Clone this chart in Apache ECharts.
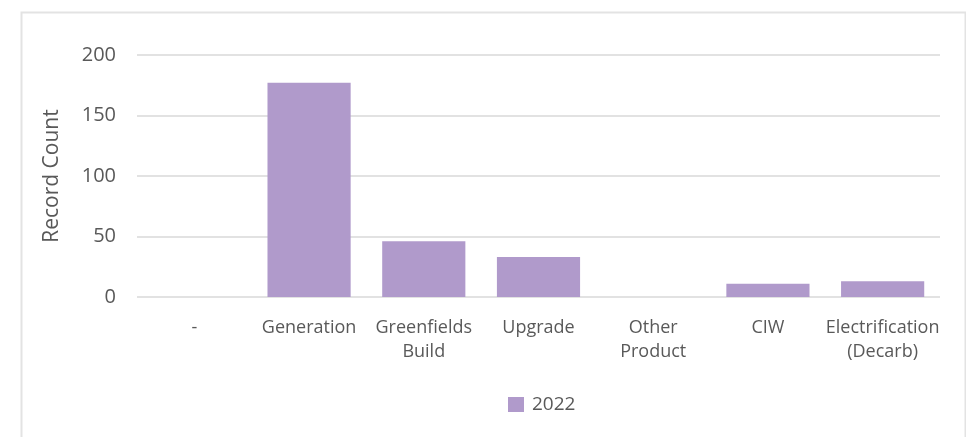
<!DOCTYPE html>
<html>
<head>
<meta charset="utf-8">
<script src="https://cdn.jsdelivr.net/npm/echarts@6/dist/echarts.min.js"></script>
<style>
html,body{margin:0;padding:0;background:#fff;}
#chart{width:966px;height:437px;}
</style>
</head>
<body>
<div id="chart"></div>
<script>
const categories = ['-', 'Generation', 'Greenfields\nBuild', 'Upgrade', 'Other\nProduct', 'CIW', 'Electrification\n(Decarb)'];
const seriesName = '2022';
const values = [0, 177, 46, 33, 0, 11, 13];
const yTicks = [0, 50, 100, 150, 200];

const chart = echarts.init(document.getElementById('chart'), null, {renderer: 'canvas'});
const font = '"Open Sans", "Noto Sans", sans-serif';
chart.setOption({
  animation: false,
  backgroundColor: '#ffffff',
  graphic: [{
    type: 'rect', left: 19, top: 10, z: -1,
    shape: {width: 944, height: 440},
    style: {fill: 'none', stroke: '#e3e3e3', lineWidth: 2}
  }],
  grid: {left: 137, right: 26, top: 55, bottom: 140, containLabel: false},
  legend: {
    data: [seriesName],
    left: 503, top: 390,
    itemWidth: 16, itemHeight: 15, itemGap: 10,
    icon: 'rect',
    textStyle: {fontFamily: font, fontSize: 19, color: '#595959', padding: [0, 0, 0, 3]}
  },
  xAxis: {
    type: 'category',
    data: categories,
    axisLine: {show: false},
    axisTick: {show: false},
    axisLabel: {
      interval: 0, margin: 19,
      fontFamily: font, fontSize: 18, color: '#595959', lineHeight: 24
    }
  },
  yAxis: {
    type: 'value',
    min: yTicks[0], max: yTicks[yTicks.length - 1], interval: 50,
    name: 'Record Count',
    nameLocation: 'middle',
    nameGap: 74,
    nameTextStyle: {fontFamily: font, fontSize: 21, color: '#595959'},
    axisLine: {show: false},
    axisTick: {show: false},
    splitLine: {lineStyle: {color: '#d9d9d9', width: 1.5}},
    axisLabel: {margin: 21, fontFamily: font, fontSize: 20, color: '#595959'}
  },
  series: [{
    name: seriesName,
    type: 'bar',
    data: values,
    barCategoryGap: '27.5%',
    itemStyle: {color: '#b09acb'}
  }]
});
</script>
</body>
</html>
